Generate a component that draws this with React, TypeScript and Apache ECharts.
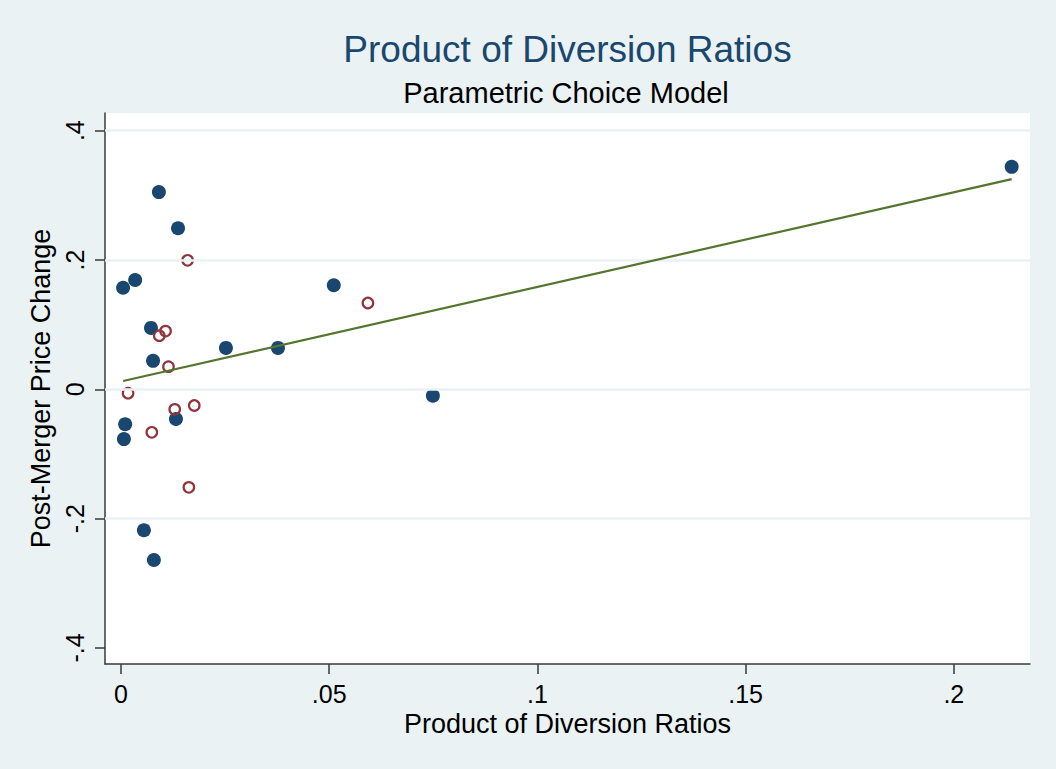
import React, { useEffect, useRef } from "react";
import * as echarts from "echarts";

// ---- Data ----
const filledX = [0.0091, 0.0137, 0.0005, 0.0034, 0.0072, 0.0077, 0.0252, 0.0377, 0.0511, 0.0749, 0.2139, 0.001, 0.0007, 0.0132, 0.0055, 0.0079];
const filledY = [0.305, 0.249, 0.157, 0.169, 0.095, 0.044, 0.064, 0.064, 0.161, -0.01, 0.344, -0.054, -0.077, -0.046, -0.218, -0.264];
const hollowX = [0.016, 0.0107, 0.0092, 0.0114, 0.0017, 0.0129, 0.0176, 0.0074, 0.0163, 0.0593];
const hollowY = [0.1995, 0.09, 0.083, 0.035, -0.006, -0.031, -0.025, -0.0665, -0.1516, 0.1335];
const fitX = [0.0005, 0.2139];
const fitY = [0.0128, 0.325];

const xTickValues = [0, 0.05, 0.1, 0.15, 0.2];
const xTickLabels = ["0", ".05", ".1", ".15", ".2"];
const yTickValues = [-0.4, -0.2, 0, 0.2, 0.4];
const yTickLabels = ["-.4", "-.2", "0", ".2", ".4"];
const yGridValues = [-0.2, 0, 0.2, 0.4];

const titleText = "Product of Diversion Ratios";
const subtitleText = "Parametric Choice Model";
const xAxisTitle = "Product of Diversion Ratios";
const yAxisTitle = "Post-Merger Price Change";

const X_MIN = -0.00384;
const X_MAX = 0.2183;
const Y_MIN = -0.4248;
const Y_MAX = 0.4273;

const FONT = "'Liberation Sans', Arial, sans-serif";
const BG = "#EAF2F3";
const AXIS = "#3a3a3a";

function labelFor(values: number[], labels: string[], v: number): string {
  for (let i = 0; i < values.length; i++) {
    if (Math.abs(values[i] - v) < 1e-9) return labels[i];
  }
  return "";
}

export default function App() {
  const ref = useRef<HTMLDivElement>(null);

  useEffect(() => {
    if (!ref.current) return;
    const chart = echarts.init(ref.current, null, { renderer: "svg" });
    const filled = filledX.map((x, i) => [x, filledY[i]]);
    const hollow = hollowX.map((x, i) => [x, hollowY[i]]);
    const fit = fitX.map((x, i) => [x, fitY[i]]);

    chart.setOption({
      animation: false,
      backgroundColor: BG,
      textStyle: { fontFamily: FONT },
      graphic: [
        {
          type: "text",
          x: 567.5,
          y: 49,
          style: {
            text: titleText,
            fill: "#1A476F",
            font: `37px ${FONT}`,
            textAlign: "center",
            textVerticalAlign: "middle",
          },
        },
        {
          type: "text",
          x: 566,
          y: 93,
          style: {
            text: subtitleText,
            fill: "#000000",
            font: `29px ${FONT}`,
            textAlign: "center",
            textVerticalAlign: "middle",
          },
        },
      ],
      grid: {
        left: 105,
        right: 26,
        top: 113,
        bottom: 105,
        show: true,
        backgroundColor: "#ffffff",
        borderWidth: 0,
      },
      xAxis: {
        type: "value",
        min: X_MIN,
        max: X_MAX,
        name: xAxisTitle,
        nameLocation: "middle",
        nameGap: 43,
        nameTextStyle: { fontSize: 27, color: "#000", fontFamily: FONT },
        axisLine: { show: true, onZero: false, lineStyle: { color: AXIS, width: 1.5 } },
        axisTick: {
          show: true,
          inside: false,
          length: 10,
          customValues: xTickValues,
          lineStyle: { color: AXIS, width: 1.5 },
        },
        axisLabel: {
          show: true,
          customValues: xTickValues,
          margin: 17,
          fontSize: 25,
          color: "#000",
          fontFamily: FONT,
          formatter: (v: number) => labelFor(xTickValues, xTickLabels, v),
        },
        splitLine: { show: false },
      },
      yAxis: {
        type: "value",
        min: Y_MIN,
        max: Y_MAX,
        name: yAxisTitle,
        nameLocation: "middle",
        nameGap: 46,
        nameTextStyle: { fontSize: 27, color: "#000", fontFamily: FONT },
        axisLine: { show: true, onZero: false, lineStyle: { color: AXIS, width: 1.5 } },
        axisTick: {
          show: true,
          inside: false,
          length: 10,
          customValues: yTickValues,
          lineStyle: { color: AXIS, width: 1.5 },
        },
        axisLabel: {
          show: true,
          customValues: yTickValues,
          rotate: 90,
          margin: 18,
          fontSize: 25,
          color: "#000",
          fontFamily: FONT,
          formatter: (v: number) => labelFor(yTickValues, yTickLabels, v),
        },
        splitLine: { show: false },
      },
      series: [
        {
          type: "scatter",
          name: "grid",
          data: [],
          z: 1,
          silent: true,
          markLine: {
            silent: true,
            symbol: ["none", "none"],
            label: { show: false },
            lineStyle: { color: BG, width: 2.5, type: "solid" },
            emphasis: { disabled: true },
            data: yGridValues.map((v) => ({ yAxis: v })),
          },
        },
        {
          type: "scatter",
          name: "filled",
          data: filled,
          symbol: "circle",
          symbolSize: 14,
          itemStyle: { color: "#1A476F", opacity: 1 },
          z: 3,
        },
        {
          type: "scatter",
          name: "hollow",
          data: hollow,
          symbol: "circle",
          symbolSize: 10.5,
          itemStyle: { color: "rgba(0,0,0,0)", borderColor: "#90353B", borderWidth: 2.2, opacity: 1 },
          z: 4,
        },
        {
          type: "line",
          name: "fit",
          data: fit,
          showSymbol: false,
          symbol: "none",
          lineStyle: { color: "#55752F", width: 2.2 },
          z: 5,
        },
      ],
    });
    return () => chart.dispose();
  }, []);

  return (
    <div
      ref={ref}
      style={{ position: "fixed", left: 0, top: 0, width: 1056, height: 769 }}
    />
  );
}
